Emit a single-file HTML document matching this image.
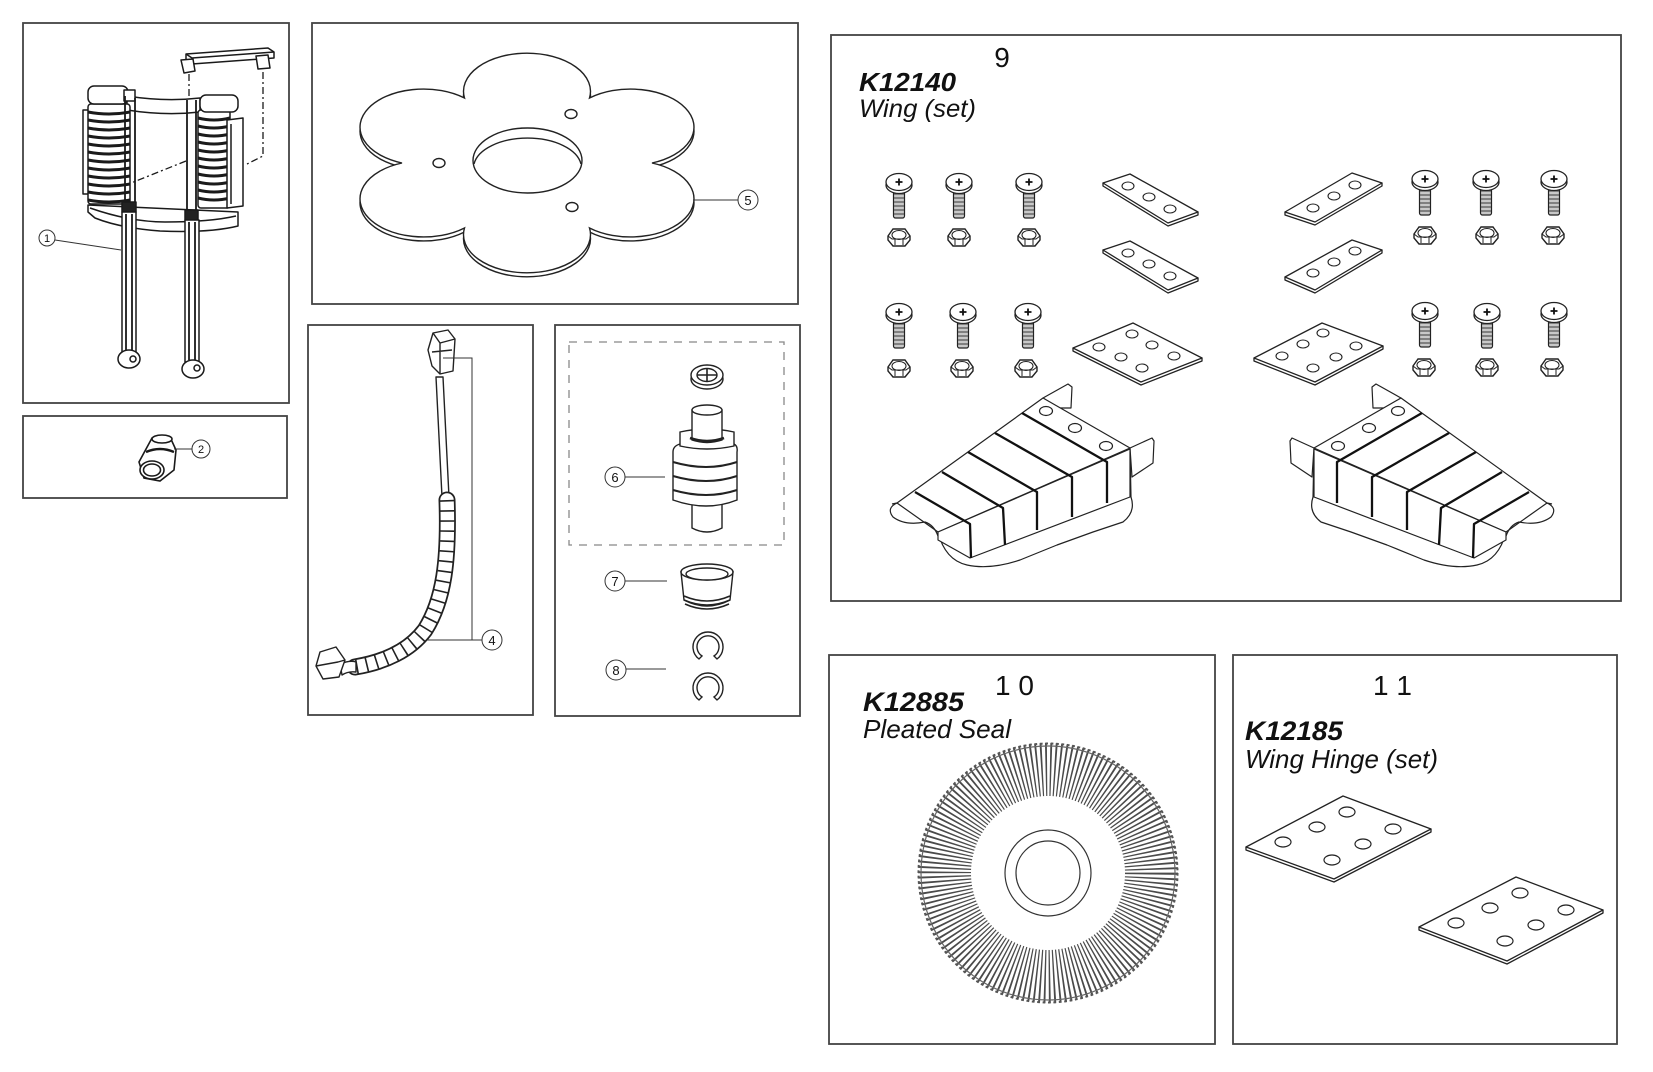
<!DOCTYPE html>
<html><head><meta charset="utf-8"><style>
html,body{margin:0;padding:0;background:#fff;}
svg{display:block;}
text{font-family:"Liberation Sans",sans-serif;fill:#111;}
</style></head><body>
<svg width="1653" height="1072" viewBox="0 0 1653 1072" xmlns="http://www.w3.org/2000/svg">
<defs>
  <g id="screw">
    <rect x="-5.5" y="6" width="11" height="30" rx="2" fill="#c8c8c8" stroke="#222" stroke-width="1.2"/>
    <path d="M-5,12h10M-5,16h10M-5,20h10M-5,24h10M-5,28h10M-5,32h10" stroke="#555" stroke-width="1.3"/>
    <ellipse cx="0" cy="3" rx="13" ry="8.5" fill="#fff" stroke="#222" stroke-width="1.3"/>
    <ellipse cx="0" cy="0" rx="13" ry="8.5" fill="#fff" stroke="#222" stroke-width="1.3"/>
    <path d="M-3.5,0h7M0,-3.5v7" stroke="#111" stroke-width="1.8"/>
  </g>
  <g id="nut">
    <path d="M-11,-1 L-6,-8 L6,-8 L11,-1 L11,3 L6,9 L-6,9 L-11,3 Z" fill="#fff" stroke="#222" stroke-width="1.4"/>
    <ellipse cx="0" cy="-2" rx="7" ry="4.5" fill="#fff" stroke="#222" stroke-width="1.1"/>
    <path d="M-4,2 L-4,8 M4,2 L4,8 M-11,-1 L-7,2 L7,2 L11,-1" stroke="#222" stroke-width="1" fill="none"/>
  </g>
  <g id="wing" fill="#fff" stroke="#222" stroke-width="1.2" stroke-linejoin="round">
    <path d="M938,532 Q945,560 967,565 Q990,570 1020,560 L1057,545 L1093,532 L1123,522 Q1136,512 1131,497 L1130,449 L938,532 Z"/>
    <path d="M1043,398 L1068,384 L1072,387 L1071,408 L1058,408 Z"/>
    <path d="M1130,448 L1152,438 L1154,441 L1153,463 L1132,477 Z"/>
    <path d="M897,503 L1043,398 L1130,448 L938,532 Z"/>
    <path d="M938,532 L1130,449 L1130,497 L970,558 L938,540 Z"/>
    <path d="M897,503 Q886,508 893,517 Q905,526 925,522 Q934,525 938,536" fill="none"/>
    <path d="M892,504 L897,503" fill="none"/>
    <path d="M915,492 L970,524 L971,558 M942,472 L1003,508 L1005,545 M968,452 L1037,492 L1037,530 M995,433 L1072,477 L1072,517 M1022,413 L1107,462 L1107,503" fill="none" stroke="#111" stroke-width="2.3"/>
    <ellipse cx="1046" cy="411" rx="6.5" ry="4.5"/>
    <ellipse cx="1075" cy="428" rx="6.5" ry="4.5"/>
    <ellipse cx="1106" cy="446" rx="6.5" ry="4.5"/>
  </g>
</defs>

<!-- ===== Frames ===== -->
<g fill="none" stroke="#444" stroke-width="1.8">
  <rect x="23" y="23" width="266" height="380"/>
  <rect x="23" y="416" width="264" height="82"/>
  <rect x="312" y="23" width="486" height="281"/>
  <rect x="308" y="325" width="225" height="390"/>
  <rect x="555" y="325" width="245" height="391"/>
  <rect x="831" y="35" width="790" height="566"/>
  <rect x="829" y="655" width="386" height="389"/>
  <rect x="1233" y="655" width="384" height="389"/>
</g>

<!-- ===== Box 1 ===== -->
<g fill="#fff" stroke="#1a1a1a" stroke-width="1.5" stroke-linejoin="round">
  <!-- handle -->
  <path d="M186,54 L268,48 L274,52 L274,58 L192,64 L186,60 Z"/>
  <path d="M186,54 L192,58 L274,52 M192,58 V64" fill="none"/>
  <path d="M181,60 L193,59 L195,71 L184,73 Z"/>
  <path d="M256,56 L268,55 L270,68 L258,69 Z"/>
  <path d="M189,74 V98 M263,72 V156 L247,164 M186,161 L131,183" fill="none" stroke-dasharray="7 3 2 3" stroke-width="1.3"/>
  <!-- base -->
  <path d="M88,205 L238,212 L238,226 Q210,233 160,231 Q120,228 95,218 L88,212 Z"/>
  <path d="M90,208 Q130,222 165,222 Q210,222 236,216" fill="none"/>
  <!-- band -->
  <path d="M127,96 Q165,102 200,98 L200,112 Q165,116 127,110 Z"/>
  <!-- left cylinder -->
  <rect x="83" y="110" width="7" height="84"/>
  <rect x="88" y="104" width="42" height="100" rx="3"/>
  <path d="M88,112 q21,4 42,0 M88,120 q21,4 42,0 M88,128 q21,4 42,0 M88,136 q21,4 42,0 M88,144 q21,4 42,0 M88,152 q21,4 42,0 M88,160 q21,4 42,0 M88,168 q21,4 42,0 M88,176 q21,4 42,0 M88,184 q21,4 42,0 M88,192 q21,4 42,0 M88,200 q21,4 42,0" fill="none" stroke-width="3"/>
  <rect x="88" y="86" width="40" height="18" rx="6"/>
  <rect x="124" y="90" width="11" height="11"/>
  <!-- right cylinder -->
  <rect x="198" y="110" width="32" height="98" rx="3"/>
  <path d="M198,118 q16,4 32,0 M198,126 q16,4 32,0 M198,134 q16,4 32,0 M198,142 q16,4 32,0 M198,150 q16,4 32,0 M198,158 q16,4 32,0 M198,166 q16,4 32,0 M198,174 q16,4 32,0 M198,182 q16,4 32,0 M198,190 q16,4 32,0 M198,198 q16,4 32,0" fill="none" stroke-width="3"/>
  <rect x="200" y="95" width="38" height="17" rx="6"/>
  <path d="M227,120 L243,118 L243,206 L227,208 Z"/>
  <path d="M231,124 V204" fill="none"/>
  <!-- straps -->
  <path d="M125,96 V210 M135,98 V212 M187,100 V218 M196,100 V220" fill="none" stroke-width="1.8"/>
  <rect x="122" y="202" width="14" height="10" fill="#222"/>
  <rect x="185" y="210" width="13" height="10" fill="#222"/>
  <!-- rods -->
  <rect x="122" y="212" width="14" height="140" fill="#fff"/>
  <path d="M126,214 V350 M132,214 V350" fill="none" stroke-width="1.8"/>
  <rect x="185" y="220" width="14" height="142" fill="#fff"/>
  <path d="M189,222 V360 M195,222 V360" fill="none" stroke-width="1.8"/>
  <ellipse cx="129" cy="359" rx="11" ry="9"/>
  <circle cx="133" cy="359" r="3"/>
  <ellipse cx="193" cy="369" rx="11" ry="9"/>
  <circle cx="197" cy="368" r="3"/>
</g>
<g fill="#fff" stroke="#333" stroke-width="1">
  <line x1="55" y1="240" x2="121" y2="250"/>
  <circle cx="47" cy="238" r="8"/>
</g>
<text x="47" y="242" font-size="11" text-anchor="middle">1</text>

<!-- ===== Box 2 ===== -->
<g fill="#fff" stroke="#1a1a1a" stroke-width="1.6">
  <path d="M152,438 L170,437 L176,450 L174,470 L160,481 L144,478 L139,462 Z"/>
  <ellipse cx="162" cy="439" rx="10" ry="4"/>
  <path d="M146,452 Q160,446 174,452" fill="none" stroke-width="2.4"/>
  <ellipse cx="152" cy="470" rx="12" ry="9"/>
  <ellipse cx="152" cy="470" rx="8.5" ry="6"/>
</g>
<g fill="#fff" stroke="#333" stroke-width="1">
  <line x1="174" y1="449" x2="192" y2="449"/>
  <circle cx="201" cy="449" r="9"/>
</g>
<text x="201" y="453" font-size="11" text-anchor="middle">2</text>

<!-- ===== Box 5 flower ===== -->
<g fill="#fff" stroke="#222" stroke-width="1.4">
  <path transform="translate(527,167) scale(1,0.6)" vector-effect="non-scaling-stroke" d="M125,0 A63.5,63.5 0 1 1 62.5,108.25 A63.5,63.5 0 1 1 -62.5,108.25 A63.5,63.5 0 1 1 -125,0 A63.5,63.5 0 1 1 -62.5,-108.25 A63.5,63.5 0 1 1 62.5,-108.25 A63.5,63.5 0 1 1 125,0 Z"/>
  <path transform="translate(527,163) scale(1,0.6)" vector-effect="non-scaling-stroke" d="M125,0 A63.5,63.5 0 1 1 62.5,108.25 A63.5,63.5 0 1 1 -62.5,108.25 A63.5,63.5 0 1 1 -125,0 A63.5,63.5 0 1 1 -62.5,-108.25 A63.5,63.5 0 1 1 62.5,-108.25 A63.5,63.5 0 1 1 125,0 Z"/>
  <ellipse cx="527.5" cy="160.5" rx="54.5" ry="32.5"/>
  <path d="M474,164 A54,30 0 0 1 581,164" fill="none"/>
  <ellipse cx="571" cy="114" rx="6" ry="4.5"/>
  <ellipse cx="439" cy="163" rx="6" ry="4.5"/>
  <ellipse cx="572" cy="207" rx="6" ry="4.5"/>
</g>
<g fill="#fff" stroke="#333" stroke-width="1">
  <line x1="693" y1="200" x2="738" y2="200"/>
  <circle cx="748" cy="200" r="10"/>
</g>
<text x="748" y="205" font-size="13" text-anchor="middle">5</text>

<!-- ===== Box 4 hose ===== -->
<g fill="#fff" stroke="#222" stroke-width="1.4" stroke-linejoin="round">
  <path d="M436,377 L442,497 L449,497 L443,377 Z"/>
  <path d="M447,500 C449,560 444,600 425,630 C410,650 385,662 355,667" fill="none" stroke="#222" stroke-width="17" stroke-linecap="round"/>
  <path d="M447,500 C449,560 444,600 425,630 C410,650 385,662 355,667" fill="none" stroke="#fff" stroke-width="13.5" stroke-linecap="round"/>
  <path d="M447,500 C449,560 444,600 425,630 C410,650 385,662 355,667" fill="none" stroke="#222" stroke-width="14" stroke-dasharray="1.6 8.5"/>
  <path d="M340,664 Q350,660 356,662 L356,672 Q348,671 342,675 Z"/>
  <path d="M320,652 L336,647 L345,660 L339,677 L323,679 L316,666 Z"/>
  <path d="M316,666 L338,662 L345,660" fill="none"/>
  <path d="M433,333 L448,330 L455,339 L453,371 L440,374 L432,366 L428,350 Z"/>
  <path d="M433,333 L440,343 L455,339 M440,343 L440,374 M432,352 L452,350" fill="none"/>
</g>
<g fill="none" stroke="#333" stroke-width="1">
  <path d="M443,358 H472 V640 H482 M427,640 H472"/>
  <circle cx="492" cy="640" r="10" fill="#fff"/>
</g>
<text x="492" y="645" font-size="13" text-anchor="middle">4</text>

<!-- ===== Box 6-8 ===== -->
<rect x="569" y="342" width="215" height="203" fill="none" stroke="#888" stroke-width="1.3" stroke-dasharray="8 7"/>
<g fill="#fff" stroke="#222" stroke-width="1.4">
  <ellipse cx="707" cy="379" rx="16" ry="10"/>
  <ellipse cx="707" cy="375" rx="16" ry="10"/>
  <ellipse cx="707" cy="375" rx="10" ry="6.5"/>
  <path d="M697,375 H717 M707,368.5 V381.5" fill="none" stroke-width="1.6"/>
  <path d="M692,502 V528 Q707,536 722,528 V502 Z"/>
  <path d="M673,452 Q673,446 680,444 L734,444 Q738,446 737,452 L737,500 Q707,512 673,500 Z"/>
  <path d="M673,462 Q707,472 737,462 M673,476 Q707,486 737,476 M673,490 Q707,500 737,490" fill="none" stroke-width="2"/>
  <path d="M680,432 Q707,426 734,432 L734,446 Q707,452 680,446 Z"/>
  <path d="M692,410 V440 Q707,445 722,440 V410 Z"/>
  <ellipse cx="707" cy="410" rx="15" ry="5"/>
  <path d="M690,438 Q707,444 724,438" fill="none" stroke-width="2.6"/>
  <path d="M681,572 L684,600 Q707,612 730,600 L733,572 Z"/>
  <path d="M684,596 Q707,606 730,596 M684,600 Q707,610 730,600 M685,604 Q707,614 729,604" fill="none" stroke-width="1.6"/>
  <ellipse cx="707" cy="572" rx="26" ry="8"/>
  <ellipse cx="707" cy="574" rx="21" ry="6"/>
  <path d="M699,659 A15,15 0 1 1 717,659 L714,656 A11,11 0 1 0 702,656 Z"/>
  <path d="M699,700 A15,15 0 1 1 717,700 L714,697 A11,11 0 1 0 702,697 Z"/>
</g>
<g fill="#fff" stroke="#333" stroke-width="1">
  <line x1="625" y1="477" x2="665" y2="477"/>
  <circle cx="615" cy="477" r="10"/>
  <line x1="625" y1="581" x2="667" y2="581"/>
  <circle cx="615" cy="581" r="10"/>
  <line x1="626" y1="669" x2="666" y2="669"/>
  <circle cx="616" cy="670" r="10"/>
</g>
<text x="615" y="482" font-size="13" text-anchor="middle">6</text>
<text x="615" y="586" font-size="13" text-anchor="middle">7</text>
<text x="616" y="675" font-size="13" text-anchor="middle">8</text>

<!-- ===== Box 9 ===== -->
<text x="1002" y="67" font-size="28" text-anchor="middle">9</text>
<text x="859" y="91" font-size="26" font-weight="bold" font-style="italic" textLength="97" lengthAdjust="spacingAndGlyphs">K12140</text>
<text x="859" y="117" font-size="25" font-style="italic" textLength="117" lengthAdjust="spacingAndGlyphs">Wing (set)</text>

<use href="#screw" x="899" y="182"/><use href="#screw" x="959" y="182"/><use href="#screw" x="1029" y="182"/>
<use href="#nut" x="899" y="237"/><use href="#nut" x="959" y="237"/><use href="#nut" x="1029" y="237"/>
<use href="#screw" x="1425" y="179"/><use href="#screw" x="1486" y="179"/><use href="#screw" x="1554" y="179"/>
<use href="#nut" x="1425" y="235"/><use href="#nut" x="1487" y="235"/><use href="#nut" x="1553" y="235"/>
<use href="#screw" x="899" y="312"/><use href="#screw" x="963" y="312"/><use href="#screw" x="1028" y="312"/>
<use href="#nut" x="899" y="368"/><use href="#nut" x="962" y="368"/><use href="#nut" x="1026" y="368"/>
<use href="#screw" x="1425" y="311"/><use href="#screw" x="1487" y="312"/><use href="#screw" x="1554" y="311"/>
<use href="#nut" x="1424" y="367"/><use href="#nut" x="1487" y="367"/><use href="#nut" x="1552" y="367"/>

<g fill="#fff" stroke="#222" stroke-width="1.3" stroke-linejoin="round">
  <path d="M1103,183 L1103,186 L1168,226 L1198,215 L1198,212 Z"/>
  <path d="M1103,183 L1130,174 L1198,212 L1168,223 Z"/>
  <path d="M1103,250 L1103,253 L1168,293 L1198,281 L1198,278 Z"/>
  <path d="M1103,250 L1130,241 L1198,278 L1168,290 Z"/>
  <path d="M1285,212 L1285,215 L1315,225 L1382,186 L1382,183 Z"/>
  <path d="M1285,212 L1352,173 L1382,183 L1315,222 Z"/>
  <path d="M1285,277 L1285,280 L1315,293 L1382,253 L1382,250 Z"/>
  <path d="M1285,277 L1352,240 L1382,250 L1315,290 Z"/>
  <path d="M1073,348 L1073,351 L1141,385 L1202,361 L1202,358 Z"/>
  <path d="M1073,348 L1133,323 L1202,358 L1141,382 Z"/>
  <path d="M1254,358 L1254,361 L1315,385 L1383,349 L1383,346 Z"/>
  <path d="M1254,358 L1322,323 L1383,346 L1315,382 Z"/>
</g>
<g fill="#fff" stroke="#222" stroke-width="1.1">
  <ellipse cx="1128" cy="186" rx="6" ry="4"/><ellipse cx="1149" cy="197" rx="6" ry="4"/><ellipse cx="1170" cy="209" rx="6" ry="4"/>
  <ellipse cx="1128" cy="253" rx="6" ry="4"/><ellipse cx="1149" cy="264" rx="6" ry="4"/><ellipse cx="1170" cy="276" rx="6" ry="4"/>
  <ellipse cx="1313" cy="208" rx="6" ry="4"/><ellipse cx="1334" cy="196" rx="6" ry="4"/><ellipse cx="1355" cy="185" rx="6" ry="4"/>
  <ellipse cx="1313" cy="273" rx="6" ry="4"/><ellipse cx="1334" cy="262" rx="6" ry="4"/><ellipse cx="1355" cy="251" rx="6" ry="4"/>
  <ellipse cx="1099" cy="347" rx="6" ry="4"/><ellipse cx="1132" cy="334" rx="6" ry="4"/><ellipse cx="1121" cy="357" rx="6" ry="4"/>
  <ellipse cx="1152" cy="345" rx="6" ry="4"/><ellipse cx="1142" cy="368" rx="6" ry="4"/><ellipse cx="1174" cy="356" rx="6" ry="4"/>
  <ellipse cx="1282" cy="356" rx="6" ry="4"/><ellipse cx="1303" cy="344" rx="6" ry="4"/><ellipse cx="1323" cy="333" rx="6" ry="4"/>
  <ellipse cx="1313" cy="368" rx="6" ry="4"/><ellipse cx="1336" cy="357" rx="6" ry="4"/><ellipse cx="1356" cy="346" rx="6" ry="4"/>
</g>

<use href="#wing"/>
<use href="#wing" transform="translate(2444,0) scale(-1,1)"/>

<!-- ===== Box 10 ===== -->
<text x="995" y="695" font-size="28">1 0</text>
<text x="863" y="711" font-size="27" font-weight="bold" font-style="italic" textLength="101" lengthAdjust="spacingAndGlyphs">K12885</text>
<text x="863" y="738" font-size="26" font-style="italic" textLength="148" lengthAdjust="spacingAndGlyphs">Pleated Seal</text>
<g fill="none">
  <circle cx="1048" cy="873" r="103.5" stroke="#4a4a4a" stroke-width="53" pathLength="750" stroke-dasharray="1.8 3.2"/>
  <circle cx="1048" cy="873" r="129.5" stroke="#555" stroke-width="2" pathLength="300" stroke-dasharray="1 1"/>
  <circle cx="1048" cy="873" r="127" stroke="#666" stroke-width="1.2"/>
  <circle cx="1048" cy="873" r="43" stroke="#333" stroke-width="1.2"/>
  <circle cx="1048" cy="873" r="32" stroke="#333" stroke-width="1.2"/>
</g>

<!-- ===== Box 11 ===== -->
<text x="1373" y="695" font-size="28">1 1</text>
<text x="1245" y="740" font-size="27" font-weight="bold" font-style="italic" textLength="98" lengthAdjust="spacingAndGlyphs">K12185</text>
<text x="1245" y="768" font-size="26" font-style="italic" textLength="193" lengthAdjust="spacingAndGlyphs">Wing Hinge (set)</text>
<g fill="#fff" stroke="#222" stroke-width="1.3" stroke-linejoin="round">
  <path d="M1246,847 L1246,850 L1334,882 L1431,832 L1431,829 Z"/>
  <path d="M1246,847 L1343,796 L1431,829 L1334,879 Z"/>
  <path d="M1419,927 L1419,930 L1507,964 L1603,913 L1603,910 Z"/>
  <path d="M1419,927 L1516,877 L1603,910 L1507,961 Z"/>
</g>
<g fill="#fff" stroke="#222" stroke-width="1.2">
  <ellipse cx="1283" cy="842" rx="8" ry="5"/><ellipse cx="1317" cy="827" rx="8" ry="5"/><ellipse cx="1347" cy="812" rx="8" ry="5"/>
  <ellipse cx="1332" cy="860" rx="8" ry="5"/><ellipse cx="1363" cy="844" rx="8" ry="5"/><ellipse cx="1393" cy="829" rx="8" ry="5"/>
  <ellipse cx="1456" cy="923" rx="8" ry="5"/><ellipse cx="1490" cy="908" rx="8" ry="5"/><ellipse cx="1520" cy="893" rx="8" ry="5"/>
  <ellipse cx="1505" cy="941" rx="8" ry="5"/><ellipse cx="1536" cy="925" rx="8" ry="5"/><ellipse cx="1566" cy="910" rx="8" ry="5"/>
</g>
</svg>
</body></html>
